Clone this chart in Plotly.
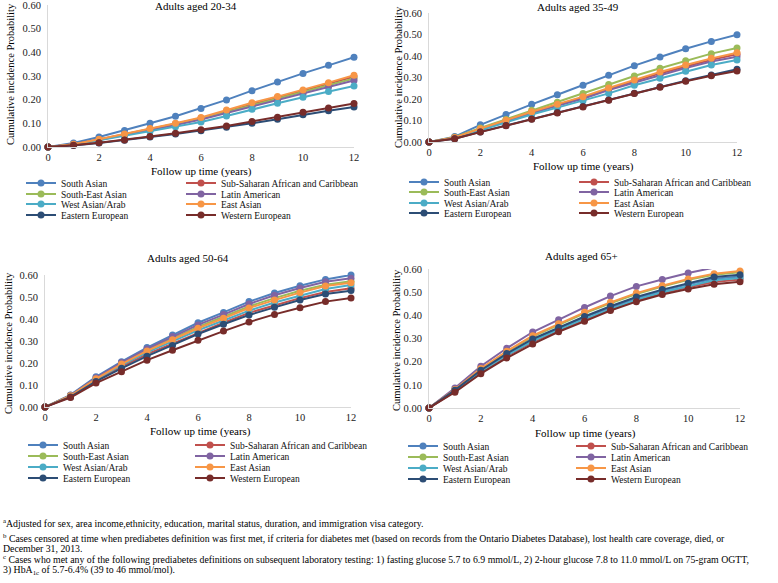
import plotly.graph_objects as go

W, H = 778, 583
FONT = "Liberation Serif"

years = list(range(13))
groups = ["South Asian", "Sub-Saharan African and Caribbean", "South-East Asian",
          "Latin American", "West Asian/Arab", "East Asian",
          "Eastern European", "Western European"]
colors = ["#4F81BD", "#C0504D", "#9BBB59", "#8064A2",
          "#4BACC6", "#F79646", "#2C4D75", "#772C2A"]
titles = ["Adults aged 20-34", "Adults aged 35-49", "Adults aged 50-64", "Adults aged 65+"]
y_ticks = [0.0, 0.1, 0.2, 0.3, 0.4, 0.5, 0.6]
x_ticks = [0, 2, 4, 6, 8, 10, 12]

# order of each list follows `groups`
age_20_34 = [
    [0, 0.017, 0.042, 0.070, 0.100, 0.130, 0.163, 0.199, 0.238, 0.275, 0.311, 0.345, 0.379],
    [0, 0.012, 0.032, 0.053, 0.076, 0.098, 0.122, 0.151, 0.181, 0.209, 0.237, 0.267, 0.297],
    [0, 0.011, 0.031, 0.052, 0.074, 0.096, 0.119, 0.147, 0.176, 0.203, 0.231, 0.261, 0.290],
    [0, 0.011, 0.030, 0.050, 0.071, 0.093, 0.116, 0.143, 0.171, 0.197, 0.224, 0.253, 0.281],
    [0, 0.010, 0.028, 0.047, 0.066, 0.086, 0.106, 0.131, 0.159, 0.185, 0.210, 0.234, 0.258],
    [0, 0.012, 0.033, 0.055, 0.078, 0.100, 0.125, 0.156, 0.187, 0.213, 0.241, 0.272, 0.303],
    [0, 0.006, 0.017, 0.028, 0.042, 0.055, 0.069, 0.083, 0.100, 0.117, 0.136, 0.153, 0.169],
    [0, 0.007, 0.018, 0.030, 0.044, 0.058, 0.073, 0.089, 0.108, 0.126, 0.147, 0.165, 0.184],
]
age_35_49 = [
    [0, 0.025, 0.080, 0.128, 0.175, 0.220, 0.264, 0.310, 0.355, 0.395, 0.434, 0.468, 0.499],
    [0, 0.020, 0.060, 0.099, 0.138, 0.172, 0.207, 0.246, 0.283, 0.319, 0.351, 0.382, 0.408],
    [0, 0.022, 0.065, 0.105, 0.148, 0.185, 0.225, 0.267, 0.307, 0.343, 0.378, 0.411, 0.437],
    [0, 0.020, 0.058, 0.096, 0.134, 0.168, 0.201, 0.242, 0.276, 0.312, 0.344, 0.374, 0.397],
    [0, 0.019, 0.055, 0.092, 0.128, 0.160, 0.192, 0.226, 0.264, 0.296, 0.329, 0.358, 0.381],
    [0, 0.021, 0.062, 0.101, 0.141, 0.176, 0.211, 0.251, 0.288, 0.326, 0.358, 0.389, 0.415],
    [0, 0.015, 0.047, 0.077, 0.107, 0.137, 0.165, 0.195, 0.227, 0.257, 0.285, 0.312, 0.338],
    [0, 0.015, 0.046, 0.076, 0.106, 0.135, 0.163, 0.194, 0.225, 0.255, 0.282, 0.308, 0.330],
]
age_50_64 = [
    [0, 0.055, 0.137, 0.206, 0.270, 0.327, 0.383, 0.430, 0.479, 0.518, 0.551, 0.580, 0.600],
    [0, 0.048, 0.120, 0.183, 0.240, 0.288, 0.338, 0.383, 0.428, 0.463, 0.495, 0.523, 0.540],
    [0, 0.052, 0.130, 0.197, 0.258, 0.312, 0.364, 0.410, 0.457, 0.495, 0.528, 0.556, 0.572],
    [0, 0.053, 0.133, 0.202, 0.264, 0.320, 0.373, 0.420, 0.468, 0.508, 0.541, 0.569, 0.585],
    [0, 0.050, 0.125, 0.190, 0.248, 0.298, 0.349, 0.393, 0.438, 0.475, 0.507, 0.536, 0.555],
    [0, 0.051, 0.128, 0.195, 0.255, 0.306, 0.358, 0.403, 0.450, 0.486, 0.520, 0.550, 0.565],
    [0, 0.046, 0.116, 0.176, 0.231, 0.280, 0.332, 0.376, 0.418, 0.453, 0.486, 0.514, 0.529],
    [0, 0.043, 0.109, 0.160, 0.213, 0.258, 0.303, 0.345, 0.386, 0.421, 0.451, 0.479, 0.495],
]
age_65_plus = [
    [0, 0.076, 0.161, 0.232, 0.294, 0.344, 0.391, 0.434, 0.474, 0.506, 0.534, 0.558, 0.568],
    [0, 0.072, 0.155, 0.224, 0.284, 0.334, 0.380, 0.425, 0.464, 0.495, 0.521, 0.544, 0.555],
    [0, 0.079, 0.168, 0.242, 0.308, 0.360, 0.409, 0.452, 0.492, 0.524, 0.553, 0.575, 0.586],
    [0, 0.086, 0.180, 0.258, 0.328, 0.381, 0.434, 0.483, 0.525, 0.555, 0.583, 0.606, 0.615],
    [0, 0.074, 0.158, 0.228, 0.289, 0.339, 0.385, 0.428, 0.468, 0.500, 0.527, 0.551, 0.561],
    [0, 0.080, 0.170, 0.245, 0.312, 0.364, 0.413, 0.456, 0.496, 0.528, 0.557, 0.580, 0.591],
    [0, 0.077, 0.163, 0.235, 0.298, 0.348, 0.395, 0.439, 0.479, 0.511, 0.539, 0.565, 0.575],
    [0, 0.068, 0.148, 0.216, 0.276, 0.329, 0.374, 0.421, 0.459, 0.490, 0.514, 0.534, 0.545],
]
panel_data = [age_20_34, age_35_49, age_50_64, age_65_plus]

footnotes = [
    "<sup>a</sup>Adjusted for sex, area income,ethnicity, education, marital status, duration, and immigration visa category.",
    "<sup>b</sup> Cases censored at time when prediabetes definition was first met, if criteria for diabetes met (based on records from the Ontario Diabetes Database), lost health care coverage, died, or",
    "December 31, 2013.",
    "<sup>c</sup> Cases who met any of the following prediabetes definitions on subsequent laboratory testing: 1) fasting glucose 5.7 to 6.9 mmol/L, 2) 2-hour glucose 7.8 to 11.0 mmol/L on 75-gram OGTT,",
    "3) HbA<sub>1c</sub> of 5.7-6.4% (39 to 46 mmol/mol).",
]

# ---- layout geometry (pixels) ----
# plot box: left, right (x=0..12), bottom (y=0), top (y=0.6)
boxes = [(48, 354, 147, 5), (429, 737, 142, 13), (45, 351, 407, 275), (429, 740, 408, 269)]
title_pos = [(196, 6), (578, 7), (188, 258), (581, 256)]
xtitle_pos = [(201, 171), (583, 166), (200, 431), (585, 433)]
ytitle_pos = [(10, 74), (399, 77), (8, 343), (396, 340)]
legend_rows = [[183, 194, 204, 215], [182, 192, 203, 213], [445, 456, 467, 478], [446, 457, 468, 479]]
legend_text_x = [(61, 221), (444, 614), (63, 230), (443, 611)]
foot_y = [523, 538, 548.5, 559.5, 570]


def px(x):
    return x / W


def py(y):
    return 1 - y / H


fig = go.Figure()
layout = dict(
    width=W, height=H, margin=dict(l=0, r=0, t=0, b=0, autoexpand=False),
    paper_bgcolor="white", plot_bgcolor="white",
    font=dict(family=FONT, color="#000000"),
    annotations=[],
)

legend_idx = 0
for p in range(4):
    sfx = "" if p == 0 else str(p + 1)
    xl, xr, yb, yt = boxes[p]
    tx0, tx1 = legend_text_x[p]
    layout["xaxis" + sfx] = dict(
        domain=[px(xl), px(xr)], range=[0, 12], anchor="y" + sfx,
        tickvals=x_ticks, showgrid=False, zeroline=False,
        showline=True, linecolor="#D9D9D9", linewidth=1,
        ticks="", tickfont=dict(family=FONT, size=10.5, color="#222"),
        ticklabelstandoff=0, ticklabeloverflow="allow", fixedrange=True,
    )
    layout["yaxis" + sfx] = dict(
        domain=[py(yb), py(yt)], range=[0, 0.6], anchor="x" + sfx,
        tickvals=y_ticks, tickformat=".2f", showgrid=False, zeroline=False,
        showline=True, linecolor="#D9D9D9", linewidth=1,
        ticks="", tickfont=dict(family=FONT, size=10.5, color="#222"),
        ticklabelstandoff=4, ticklabeloverflow="allow", fixedrange=True,
    )
    for g in range(8):
        row = g // 2
        lname = "legend" + ("" if legend_idx + row == 0 else str(legend_idx + row + 1))
        fig.add_trace(go.Scatter(
            x=years, y=panel_data[p][g], name=groups[g],
            mode="lines+markers",
            line=dict(color=colors[g], width=2),
            marker=dict(color=colors[g], size=7),
            xaxis="x" + sfx, yaxis="y" + sfx,
            legend=lname, legendwidth=(tx1 - tx0 - 45) if g % 2 == 0 else 200,
            cliponaxis=False, hoverinfo="x+y+name",
        ))
    for row in range(4):
        key = "legend" + ("" if legend_idx + row == 0 else str(legend_idx + row + 1))
        layout[key] = dict(
            orientation="h", x=px(tx0 - 40), xanchor="left",
            y=py(legend_rows[p][row] - 14.5), yanchor="top",
            bgcolor="rgba(0,0,0,0)", borderwidth=0,
            font=dict(family=FONT, size=9.5, color="#111"),
            itemclick=False, itemdoubleclick=False,
        )
    legend_idx += 4

    tx, ty = title_pos[p]
    layout["annotations"].append(dict(
        text=titles[p], x=px(tx), y=py(ty), xref="paper", yref="paper",
        xanchor="center", yanchor="middle", showarrow=False,
        font=dict(family=FONT, size=11, color="#000")))
    ax, ay = xtitle_pos[p]
    layout["annotations"].append(dict(
        text="Follow up time (years)", x=px(ax), y=py(ay), xref="paper", yref="paper",
        xanchor="center", yanchor="middle", showarrow=False,
        font=dict(family=FONT, size=11, color="#000")))
    yx, yy = ytitle_pos[p]
    layout["annotations"].append(dict(
        text="Cumulative incidence Probability", x=px(yx), y=py(yy), xref="paper", yref="paper",
        xanchor="center", yanchor="middle", showarrow=False, textangle=-90,
        font=dict(family=FONT, size=10.5, color="#000")))

for i, t in enumerate(footnotes):
    layout["annotations"].append(dict(
        text=t, x=px(1), y=py(foot_y[i]), xref="paper", yref="paper",
        xanchor="left", yanchor="middle", showarrow=False, align="left",
        font=dict(family=FONT, size=9.8, color="#000")))

fig.update_layout(**layout)
fig.write_html("out.html", config={"displayModeBar": False},
               post_script="document.body.style.margin='0px';")
